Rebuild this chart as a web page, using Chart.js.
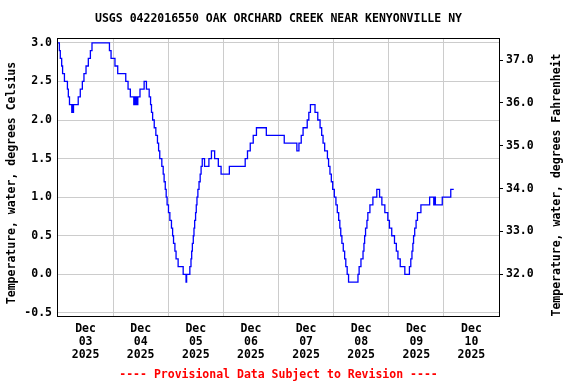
<!DOCTYPE html>
<html>
<head>
<meta charset="utf-8">
<script src="https://cdn.jsdelivr.net/npm/chart.js@4"></script>
<style>
  html, body { margin: 0; padding: 0; background: #fff; }
</style>
</head>
<body>
<canvas id="chart" width="576" height="384"></canvas>
<script>
// Water temperature, hours since Dec 03 2025 00:00 and value in deg C (each value holds until the next change)
const hours = [
  0, 0.6, 1.0, 1.6, 2.0, 2.8, 4.1, 4.5, 5.0, 6.0, 6.25, 6.5, 6.75, 8.8, 9.7, 10.6, 11.3, 12.2, 13.2, 14.1, 14.8,
  22.4, 23.1, 24.8, 26.0, 29.5, 30.5, 31.5, 33.0, 33.25, 33.5, 33.75, 34.0, 34.25, 34.5, 34.75, 35.1, 35.7, 37.5, 38.5,
  39.7, 40.3, 40.7, 41.2, 41.9, 42.6, 43.3, 43.8, 44.3, 45.2, 45.8, 46.2, 46.7, 47.1, 47.5, 48.1, 48.7, 49.4, 49.9,
  50.3, 50.9, 51.4, 52.3, 54.5, 55.75, 56.0, 57.4, 57.9, 58.2, 58.5, 58.9, 59.2, 59.5, 59.9, 60.2, 60.5, 60.9, 61.4,
  61.9, 62.3, 62.8, 63.8, 65.7, 66.8, 68.2, 69.8, 71.0, 74.6, 81.5, 82.5, 83.7, 85.0, 86.4, 90.7, 98.5, 104.0, 104.9,
  105.9, 106.7, 108.5, 109.2, 109.9, 111.9, 113.1, 114.1, 114.8, 115.4, 116.1, 117.3, 117.8, 118.4, 119.0, 119.6,
  120.3, 121.0, 121.6, 122.2, 122.7, 123.1, 123.6, 124.2, 124.8, 125.3, 125.9, 126.5, 130.6, 131.1, 131.9, 132.8,
  133.2, 133.5, 133.9, 134.5, 134.9, 135.8, 137.1, 138.8, 140.0, 141.0, 142.3, 143.6, 144.3, 145.3, 146.5, 147.3,
  148.0, 149.0, 151.0, 153.0, 153.6, 154.1, 154.5, 154.8, 155.3, 155.9, 156.5, 158.0, 161.8, 163.6, 163.8, 164.0,
  164.2, 164.3, 167.3, 171.0, 172.3
];
const tempC = [
  3.0, 2.9, 2.8, 2.7, 2.6, 2.5, 2.4, 2.3, 2.2, 2.1, 2.2, 2.1, 2.2, 2.3, 2.4, 2.5, 2.6, 2.7, 2.8, 2.9, 3.0,
  2.9, 2.8, 2.7, 2.6, 2.5, 2.4, 2.3, 2.2, 2.3, 2.2, 2.3, 2.2, 2.3, 2.2, 2.3, 2.3, 2.4, 2.5, 2.4,
  2.3, 2.2, 2.1, 2.0, 1.9, 1.8, 1.7, 1.6, 1.5, 1.4, 1.3, 1.2, 1.1, 1.0, 0.9, 0.8, 0.7, 0.6, 0.5,
  0.4, 0.3, 0.2, 0.1, 0.0, -0.1, 0.0, 0.1, 0.2, 0.3, 0.4, 0.5, 0.6, 0.7, 0.8, 0.9, 1.0, 1.1, 1.2,
  1.3, 1.4, 1.5, 1.4, 1.5, 1.6, 1.5, 1.4, 1.3, 1.4, 1.5, 1.6, 1.7, 1.8, 1.9, 1.8, 1.7, 1.6, 1.7,
  1.8, 1.9, 2.0, 2.1, 2.2, 2.1, 2.0, 1.9, 1.8, 1.7, 1.6, 1.5, 1.4, 1.3, 1.2, 1.1,
  1.0, 0.9, 0.8, 0.7, 0.6, 0.5, 0.4, 0.3, 0.2, 0.1, 0.0, -0.1, 0.0, 0.1, 0.2, 0.3,
  0.4, 0.5, 0.6, 0.7, 0.8, 0.9, 1.0, 1.1, 1.0, 0.9, 0.8, 0.7, 0.6, 0.5, 0.4, 0.3,
  0.2, 0.1, 0.0, 0.1, 0.2, 0.3, 0.4, 0.5, 0.6, 0.7, 0.8, 0.9, 1.0, 0.9, 1.0, 0.9,
  1.0, 0.9, 1.0, 1.1, 1.1
];

// axis ticks
const month = 'Dec';
const year = '2025';
const days = ['03', '04', '05', '06', '07', '08', '09', '10'];
const celsiusTicks = [-0.5, 0.0, 0.5, 1.0, 1.5, 2.0, 2.5, 3.0];
const fahrenheitTicks = [32, 33, 34, 35, 36, 37];

const titleText = 'USGS 0422016550 OAK ORCHARD CREEK NEAR KENYONVILLE NY';
const footerText = '---- Provisional Data Subject to Revision ----';
const leftTitle = 'Temperature, water, degrees Celsius';
const rightTitle = 'Temperature, water, degrees Fahrenheit';

const FONT = "'DejaVu Sans Mono', 'Liberation Mono', monospace";
const font = { family: FONT, size: 11.5, weight: 'bold' };

const yMin = -0.54, yMax = 3.05;
const toF = c => c * 1.8 + 32;

// x ticks every 12 h: midnight = grid line, noon = date label
const xTicks = [];
for (let h = 0; h <= 192; h += 12) xTicks.push(h);

const points = hours.map((h, i) => ({ x: h, y: tempC[i] }));

// frame, title, footer and the two axis titles (both read bottom to top)
const textPlugin = {
    id: 'usgsText',
    afterDraw(chart) {
        const { ctx, chartArea } = chart;
        const cx = (chartArea.left + chartArea.right) / 2;
        ctx.save();
        ctx.strokeStyle = '#000';
        ctx.lineWidth = 1;
        ctx.strokeRect(chartArea.left - 0.5, chartArea.top - 0.5,
            chartArea.right - chartArea.left + 1, chartArea.bottom - chartArea.top + 1);
        ctx.font = "bold 11.5px " + FONT;
        ctx.textAlign = 'center';
        ctx.textBaseline = 'middle';
        ctx.fillStyle = '#000';
        ctx.fillText(titleText, cx, 19);

        ctx.save();
        ctx.translate(12, 183);
        ctx.rotate(-Math.PI / 2);
        ctx.fillText(leftTitle, 0, 0);
        ctx.restore();

        ctx.save();
        ctx.translate(557, 185);
        ctx.rotate(-Math.PI / 2);
        ctx.fillText(rightTitle, 0, 0);
        ctx.restore();

        ctx.fillStyle = '#ff0000';
        ctx.fillText(footerText, cx, 375);
        ctx.restore();
    }
};

new Chart(document.getElementById('chart').getContext('2d'), {
    type: 'line',
    data: {
        datasets: [{
            label: 'Temperature',
            data: points,
            borderColor: '#0000ff',
            borderWidth: 1.3,
            pointRadius: 0,
            stepped: true,
            fill: false,
            yAxisID: 'y'
        }]
    },
    options: {
        responsive: false,
        animation: false,
        layout: { padding: { top: 39, bottom: 0, left: 0, right: 0 } },
        plugins: { legend: { display: false }, tooltip: { enabled: false } },
        scales: {
            x: {
                type: 'linear',
                min: 0,
                max: 192,
                afterBuildTicks: s => { s.ticks = xTicks.map(v => ({ value: v })); },
                afterFit: s => { s.height = 68; },
                grid: {
                    drawTicks: false,
                    color: c => (c.tick && c.tick.value % 24 === 0 && c.tick.value > 0 && c.tick.value < 192) ? '#cccccc' : 'rgba(0,0,0,0)',
                    lineWidth: 1
                },
                border: { display: false },
                ticks: {
                    autoSkip: false,
                    maxRotation: 0,
                    padding: 7,
                    color: '#000',
                    font: { family: FONT, size: 11.5, weight: 'bold', lineHeight: 1.13 },
                    callback: v => (v % 24 === 12) ? [month, days[(v - 12) / 24], year] : ''
                }
            },
            y: {
                position: 'left',
                min: yMin,
                max: yMax,
                afterBuildTicks: s => { s.ticks = celsiusTicks.map(v => ({ value: v })); },
                afterFit: s => { s.width = 58; },
                grid: { color: '#cccccc', drawTicks: false, lineWidth: 1 },
                border: { display: false },
                ticks: { padding: 6, color: '#000', font, callback: v => v.toFixed(1) }
            },
            yF: {
                position: 'right',
                min: toF(yMin),
                max: toF(yMax),
                afterBuildTicks: s => { s.ticks = fahrenheitTicks.map(v => ({ value: v })); },
                afterFit: s => { s.width = 77; },
                grid: { drawOnChartArea: false, drawTicks: true, tickLength: 4, color: '#000' },
                border: { display: false },
                ticks: { padding: 3, color: '#000', font, callback: v => v.toFixed(1) }
            }
        }
    },
    plugins: [textPlugin]
});
</script>
</body>
</html>
